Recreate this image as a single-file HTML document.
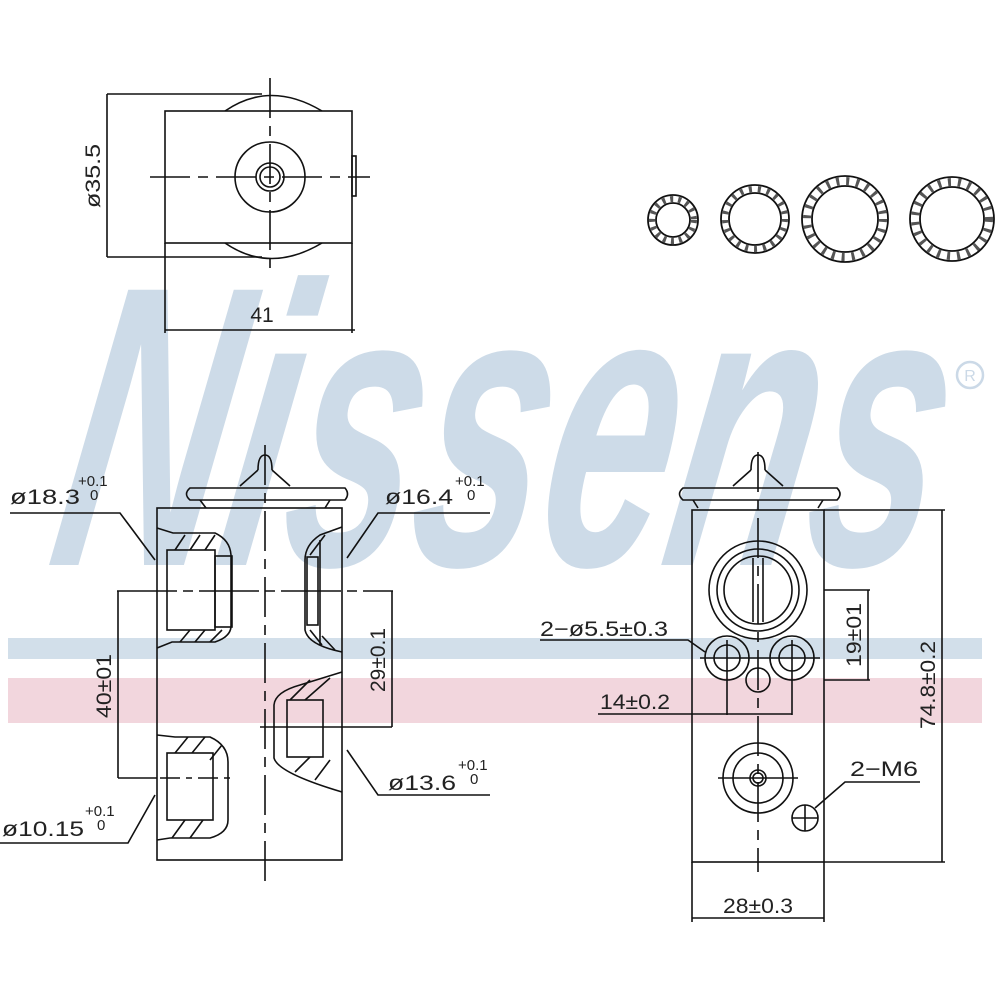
<!DOCTYPE html>
<html><head><meta charset="utf-8"><style>
html,body{margin:0;padding:0;background:#fff;}
svg{display:block;}
text{font-family:"Liberation Sans",sans-serif;fill:#222;}
</style></head><body>
<svg width="1000" height="1000" viewBox="0 0 1000 1000" xmlns="http://www.w3.org/2000/svg">
<rect width="1000" height="1000" fill="#fff"/>
<!-- watermark -->
<rect x="8" y="638" width="974" height="21" fill="#d2dfea"/>
<rect x="8" y="678" width="974" height="45" fill="#f2d6dd"/>
<g transform="translate(45,565) skewX(-10)">
<text x="0" y="0" font-size="400" font-weight="bold" font-style="italic" textLength="880" lengthAdjust="spacingAndGlyphs" style="fill:#cddbe8">Nissens</text>
</g>
<circle cx="970" cy="375" r="13" fill="none" stroke="#cbd9e7" stroke-width="2.5"/>
<text x="970" y="381" font-size="16" text-anchor="middle" style="fill:#cbd9e7">R</text>

<g fill="none" stroke="#111" stroke-width="1.6">
<!-- top view -->
<line x1="107" y1="94" x2="107" y2="257"/>
<line x1="107" y1="94" x2="262" y2="94"/>
<line x1="107" y1="257" x2="262" y2="257"/>
<rect x="165" y="111" width="187" height="132"/>
<path d="M225 111 Q270 80 322 111"/>
<path d="M225 243 Q270 274 322 243"/>
<circle cx="270" cy="177" r="35"/>
<circle cx="270" cy="177" r="14"/>
<circle cx="270" cy="177" r="10"/>
<line x1="150" y1="177" x2="370" y2="177" stroke-dasharray="40,8,10,8"/>
<line x1="270" y1="78" x2="270" y2="272" stroke-dasharray="40,8,10,8"/>
<rect x="352" y="156" width="4" height="40"/>
<line x1="165" y1="243" x2="165" y2="333"/>
<line x1="352" y1="243" x2="352" y2="333"/>
<line x1="165" y1="330" x2="355" y2="330"/>

<!-- o-rings -->
<g stroke-width="1.8">
<circle cx="673" cy="220" r="25"/><circle cx="673" cy="220" r="17"/><circle cx="673" cy="220" r="21" stroke-dasharray="3,5" stroke-width="6" stroke="#555"/>
<circle cx="755" cy="219" r="34"/><circle cx="755" cy="219" r="26"/><circle cx="755" cy="219" r="30" stroke-dasharray="3,6" stroke-width="6" stroke="#555"/>
<circle cx="845" cy="219" r="43"/><circle cx="845" cy="219" r="33"/><circle cx="845" cy="219" r="38" stroke-dasharray="3,7" stroke-width="8" stroke="#555"/>
<circle cx="952" cy="219" r="42"/><circle cx="952" cy="219" r="32"/><circle cx="952" cy="219" r="37" stroke-dasharray="3,7" stroke-width="8" stroke="#555"/>
</g>

<!-- left side view -->
<rect x="157" y="508" width="185" height="352"/>
<line x1="265" y1="445" x2="265" y2="885" stroke-dasharray="40,8,10,8"/>
<path d="M190 488 H345 Q350 494 345 500 H190 Q183 494 190 488 Z"/>
<path d="M200 500 L206 508 M330 500 L325 508"/>
<path d="M240 486 L258 470 M272 470 L290 486"/>
<path d="M258 470 Q258 455 265 455 Q272 455 272 470"/>
<!-- upper-left port -->
<path d="M157 528 L173 533 H215 Q230 540 231 555 V627 Q230 637 215 642 H172 L157 648"/>
<rect x="167" y="550" width="48" height="80"/>
<rect x="215" y="556" width="17" height="71"/>
<path d="M175 550 L185 535 M190 550 L200 535 M205 550 L215 535 M180 642 L190 630 M195 642 L205 630 M210 642 L222 630"/>
<!-- upper-right port -->
<path d="M342 527 L320 535 Q305 545 305 560 V630 Q308 645 342 652"/>
<rect x="307" y="557" width="11" height="68"/>
<line x1="320" y1="540" x2="320" y2="645"/>
<path d="M310 555 L325 535 M322 636 L335 650 M310 630 L322 645"/>
<!-- lower-right port -->
<path d="M342 672 L300 685 Q275 692 274 705 V758 Q278 773 342 792"/>
<rect x="287" y="700" width="36" height="57"/>
<path d="M290 700 L310 680 M305 700 L330 678 M295 772 L310 757 M315 780 L330 760"/>
<!-- lower-left port -->
<path d="M157 735 L175 737 H210 Q228 745 228 762 V820 Q228 833 210 838 H170 L157 840"/>
<rect x="167" y="753" width="46" height="67"/>
<path d="M175 753 L188 737 M192 753 L205 737 M210 760 L222 745 M172 838 L185 820 M190 838 L203 820"/>
<line x1="160" y1="778" x2="230" y2="778" stroke-dasharray="20,6,6,6"/>
<!-- dims -->
<line x1="117" y1="591" x2="393" y2="591" stroke-dasharray="60,6,10,6"/>
<line x1="118" y1="591" x2="118" y2="778"/>
<line x1="118" y1="778" x2="157" y2="778"/>
<line x1="392" y1="591" x2="392" y2="727"/>
<line x1="260" y1="727" x2="392" y2="727"/>
<!-- leaders -->
<path d="M10 513 H120 L155 560"/>
<path d="M490 513 H378 L347 558"/>
<path d="M490 795 H378 L347 750"/>
<path d="M0 843 H128 L155 795"/>

<!-- right view -->
<rect x="692" y="510" width="132" height="352"/>
<line x1="692" y1="862" x2="692" y2="922"/>
<line x1="824" y1="862" x2="824" y2="922"/>
<line x1="692" y1="918" x2="824" y2="918"/>
<line x1="758" y1="452" x2="758" y2="872" stroke-dasharray="40,8,10,8"/>
<path d="M683 488 H837 Q843 494 837 500 H683 Q676 494 683 488 Z"/>
<path d="M693 500 L698 508 M823 500 L818 508"/>
<path d="M733 486 L751 470 M765 470 L783 486"/>
<path d="M751 470 Q751 455 758 455 Q765 455 765 470"/>
<circle cx="758" cy="590" r="49"/>
<circle cx="758" cy="590" r="41"/>
<circle cx="758" cy="590" r="34"/>
<line x1="753" y1="558" x2="753" y2="622"/>
<line x1="763" y1="558" x2="763" y2="622"/>
<circle cx="727" cy="658" r="22"/><circle cx="727" cy="658" r="13"/>
<circle cx="792" cy="658" r="22"/><circle cx="792" cy="658" r="13"/>
<line x1="700" y1="658" x2="820" y2="658"/>
<circle cx="758" cy="680" r="12"/>
<line x1="727" y1="640" x2="727" y2="715"/>
<line x1="792" y1="640" x2="792" y2="715"/>
<line x1="598" y1="714" x2="792" y2="714"/>
<line x1="824" y1="590" x2="870" y2="590"/>
<line x1="824" y1="680" x2="870" y2="680"/>
<line x1="868" y1="590" x2="868" y2="680"/>
<line x1="824" y1="510" x2="945" y2="510"/>
<line x1="824" y1="862" x2="945" y2="862"/>
<line x1="942" y1="510" x2="942" y2="862"/>
<path d="M540 640 H688 L705 652"/>
<circle cx="758" cy="778" r="35"/>
<circle cx="758" cy="778" r="25"/>
<circle cx="758" cy="778" r="8"/>
<circle cx="758" cy="778" r="5"/>
<line x1="718" y1="778" x2="798" y2="778"/>
<circle cx="805" cy="818" r="13"/>
<line x1="792" y1="818" x2="818" y2="818"/>
<line x1="805" y1="805" x2="805" y2="831"/>
<path d="M815 808 L845 782 H920"/>
</g>

<g font-size="21">
<text transform="translate(100,176) rotate(-90)" text-anchor="middle" textLength="64" lengthAdjust="spacingAndGlyphs">ø35.5</text>
<text x="262" y="322" text-anchor="middle">41</text>
<text x="10" y="504" textLength="70" lengthAdjust="spacingAndGlyphs">ø18.3</text>
<text x="78" y="486" font-size="15">+0.1</text>
<text x="90" y="500" font-size="15">0</text>
<text x="385" y="504" textLength="68" lengthAdjust="spacingAndGlyphs">ø16.4</text>
<text x="455" y="486" font-size="15">+0.1</text>
<text x="467" y="500" font-size="15">0</text>
<text x="388" y="790" textLength="68" lengthAdjust="spacingAndGlyphs">ø13.6</text>
<text x="458" y="770" font-size="15">+0.1</text>
<text x="470" y="784" font-size="15">0</text>
<text x="2" y="836" textLength="82" lengthAdjust="spacingAndGlyphs">ø10.15</text>
<text x="85" y="816" font-size="15">+0.1</text>
<text x="97" y="830" font-size="15">0</text>
<text transform="translate(111,686) rotate(-90)" text-anchor="middle" textLength="64" lengthAdjust="spacingAndGlyphs">40±01</text>
<text transform="translate(385,660) rotate(-90)" text-anchor="middle" textLength="64" lengthAdjust="spacingAndGlyphs">29±0.1</text>
<text x="540" y="636" textLength="128" lengthAdjust="spacingAndGlyphs">2−ø5.5±0.3</text>
<text x="600" y="709" textLength="70" lengthAdjust="spacingAndGlyphs">14±0.2</text>
<text transform="translate(861,635) rotate(-90)" text-anchor="middle" textLength="64" lengthAdjust="spacingAndGlyphs">19±01</text>
<text transform="translate(935,685) rotate(-90)" text-anchor="middle" textLength="88" lengthAdjust="spacingAndGlyphs">74.8±0.2</text>
<text x="850" y="776" textLength="68" lengthAdjust="spacingAndGlyphs">2−M6</text>
<text x="758" y="913" text-anchor="middle" textLength="70" lengthAdjust="spacingAndGlyphs">28±0.3</text>
</g>
</svg>
</body></html>
